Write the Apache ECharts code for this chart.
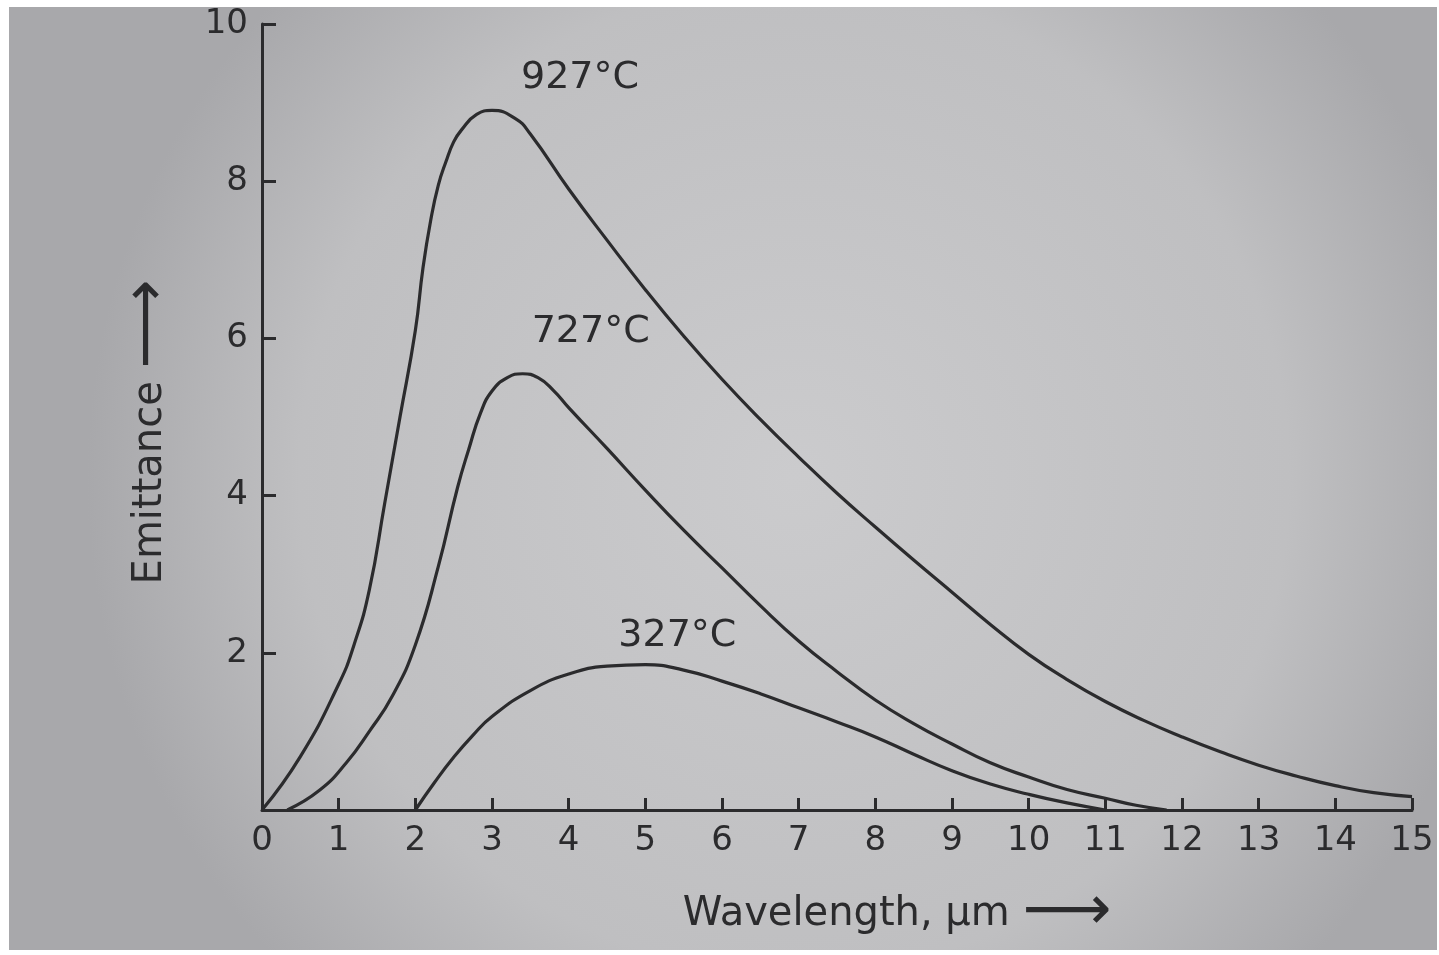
<!DOCTYPE html>
<html>
<head>
<meta charset="utf-8">
<title>Emittance vs wavelength</title>
<script src="https://cdn.jsdelivr.net/npm/echarts@6/dist/echarts.min.js"></script>
<style>
  html, body { margin: 0; padding: 0; background: #fff; }
  #container { position: absolute; left: 9px; top: 7px; width: 1428px; height: 943px; }
</style>
</head>
<body>
<div id="container"></div>
<script>
// values (wavelength in µm, emittance)
var wl927 = [0, 0.5, 1, 1.2, 1.4, 1.6, 1.8, 2, 2.1, 2.2, 2.3, 2.4, 2.5, 2.6, 2.8, 3, 3.3, 3.5, 4, 4.5, 5, 5.5, 6, 6.5, 7, 7.5, 8, 8.5, 9, 9.5, 10, 10.5, 11, 11.5, 12, 12.5, 13, 13.5, 14, 14.5, 15];
var em927 = [0, 0.68, 1.6, 2.1, 2.8, 3.9, 5.0, 6.1, 6.9, 7.5, 7.95, 8.25, 8.5, 8.65, 8.85, 8.9, 8.8, 8.6, 7.9, 7.25, 6.62, 6.03, 5.48, 4.97, 4.49, 4.03, 3.6, 3.18, 2.77, 2.36, 1.98, 1.66, 1.38, 1.14, 0.93, 0.74, 0.57, 0.43, 0.31, 0.22, 0.17];

var wl727 = [0.33, 0.75, 1.1, 1.4, 1.7, 2, 2.3, 2.55, 2.7, 2.85, 3, 3.2, 3.4, 3.6, 3.8, 4, 4.5, 5, 5.5, 6, 6.5, 7, 7.5, 8, 8.5, 9, 9.5, 10, 10.5, 11, 11.4, 11.8];
var em727 = [0, 0.25, 0.6, 1.0, 1.45, 2.1, 3.1, 4.1, 4.6, 5.05, 5.33, 5.5, 5.55, 5.5, 5.34, 5.12, 4.6, 4.07, 3.56, 3.08, 2.6, 2.15, 1.76, 1.4, 1.1, 0.84, 0.6, 0.42, 0.26, 0.15, 0.06, 0];

var wl327 = [2, 2.25, 2.5, 2.75, 3, 3.5, 4, 4.5, 5, 5.5, 6, 6.5, 7, 7.5, 8, 8.5, 9, 9.5, 10, 10.5, 11];
var em327 = [0, 0.35, 0.67, 0.95, 1.19, 1.52, 1.73, 1.83, 1.85, 1.78, 1.64, 1.48, 1.3, 1.12, 0.93, 0.71, 0.5, 0.33, 0.2, 0.09, 0];

var names = ['927°C', '727°C', '327°C'];
var labelShift = [[88, -8], [68, -18], [32, -4]];
var xTicks = [0, 15, 1];   // min, max, interval
var yTicks = [0, 10, 2];

var ink = '#2b2b2d';
var font = 'DejaVu Sans';

function pairs(xs, ys, name, shift) {
    var peak = 0;
    for (var i = 1; i < ys.length; i++) if (ys[i] > ys[peak]) peak = i;
    return xs.map(function (x, i) {
        var p = { value: [x, ys[i]] };
        if (i === peak) {
            p.label = {
                show: true, formatter: name, position: 'top',
                offset: shift, color: ink, fontSize: 38, fontFamily: font
            };
        }
        return p;
    });
}

var dom = document.getElementById('container');
var myChart = echarts.init(dom);
var arrowRich = { a: { fontSize: 62, color: ink, fontFamily: font, padding: [0, 0, 4, 0] } };
var option = {
    backgroundColor: {
        type: 'radial', x: 0.55, y: 0.5, r: 0.75,
        colorStops: [
            { offset: 0, color: '#cbcbcd' },
            { offset: 0.7, color: '#bfbfc1' },
            { offset: 1, color: '#a8a8ab' }
        ]
    },
    animation: false,
    grid: { left: 253, right: 25, top: 10, bottom: 140 },
    xAxis: {
        type: 'value',
        min: xTicks[0], max: xTicks[1], interval: xTicks[2],
        name: 'Wavelength, µm {a|⟶}',
        nameLocation: 'middle',
        nameGap: 72,
        nameTextStyle: { color: ink, fontSize: 40, fontFamily: font, padding: [0, 0, 0, 120], rich: arrowRich },
        axisLine: { lineStyle: { color: ink, width: 3 } },
        axisTick: { inside: true, length: 12, lineStyle: { color: ink, width: 3 } },
        axisLabel: { color: ink, fontSize: 34, fontFamily: font, margin: 14 },
        splitLine: { show: false }
    },
    yAxis: {
        type: 'value',
        min: yTicks[0], max: yTicks[1], interval: yTicks[2],
        name: 'Emittance {a|⟶}',
        nameLocation: 'middle',
        nameGap: 78,
        nameTextStyle: { color: ink, fontSize: 40, fontFamily: font, padding: [0, 0, 0, -30], rich: arrowRich },
        axisLine: { show: true, lineStyle: { color: ink, width: 3 } },
        axisTick: { show: true, inside: true, length: 14, lineStyle: { color: ink, width: 3 } },
        axisLabel: {
            color: ink, fontSize: 34, fontFamily: font, margin: 14,
            formatter: function (v) { return v === 0 ? '' : v; }
        },
        splitLine: { show: false }
    },
    series: [0, 1, 2].map(function (k) {
        var xs = [wl927, wl727, wl327][k];
        var ys = [em927, em727, em327][k];
        return {
            name: names[k],
            type: 'line',
            smooth: 0.5,
            showSymbol: true,
            symbolSize: 0,
            data: pairs(xs, ys, names[k], labelShift[k]),
            lineStyle: { color: ink, width: 3.2 },
            itemStyle: { color: ink },
            emphasis: { disabled: true }
        };
    })
};
if (option && typeof option === "object") {
    myChart.setOption(option, true);
}
</script>
</body>
</html>
